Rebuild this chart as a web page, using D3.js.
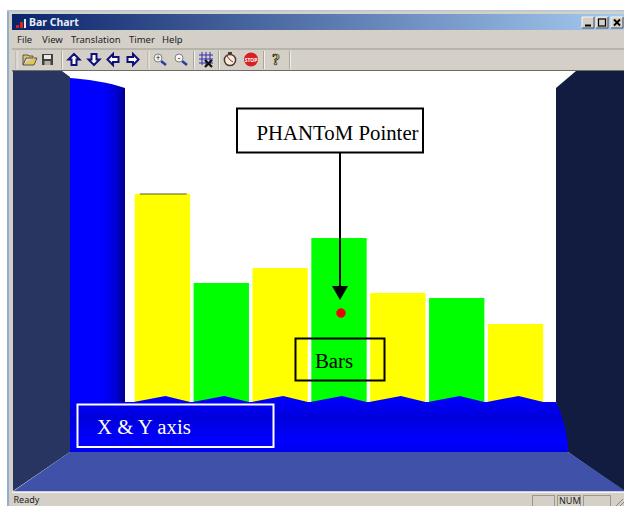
<!DOCTYPE html>
<html><head><meta charset="utf-8">
<script src="https://d3js.org/d3.v7.min.js"></script>
<style>html,body{margin:0;padding:0;background:#fff}svg{display:block}</style>
</head><body><svg id="c" width="624" height="506"></svg>
<script>
const barIndex = [1,2,3,4,5,6,7];
const barValues = [208,119,134,164,109,104,78];
const barKinds = ["y","g","y","g","y","g","y"];
const kindColors = {y:"#ffff00",g:"#00ff00"};
const menuItems = ["File","View","Translation","Timer","Help"];
const menuX = [17,42,71,129,162];

const svg = d3.select("#c");
const defs = svg.append("defs");
function grad(id,x2,y2,stops){
  const g=defs.append("linearGradient").attr("id",id).attr("x1",0).attr("y1",0).attr("x2",x2).attr("y2",y2);
  stops.forEach(s=>g.append("stop").attr("offset",s[0]).attr("stop-color",s[1]));
}
grad("title",1,0,[[0,"#0a246a"],[1,"#a6caf0"]]);
grad("pillar",1,0,[[0,"#0000ff"],[0.62,"#0000ff"],[0.85,"#0000d0"],[1,"#000088"]]);
grad("strip",0,1,[[0,"#0000ff"],[0.4,"#0000dc"],[0.8,"#0000ff"],[1,"#0000ee"]]);

const x = d3.scaleBand().domain(barIndex).range([133,545]).paddingInner(0.06).paddingOuter(0.03);
const y = d3.scaleLinear().domain([0,208]).range([402,194]);
const poly=(pts,fill)=>svg.append("polygon").attr("points",pts.map(p=>p.join(",")).join(" ")).attr("fill",fill);
const rect=(a,b,w,h,f)=>svg.append("rect").attr("x",a).attr("y",b).attr("width",w).attr("height",h).attr("fill",f);

// window frame
rect(7,10,617,496,"#d4d0c8");
rect(7,10,2,496,"#8fb0cc");
rect(7,10,617,1.5,"#b5c8d8");
rect(12,14,612,16,"url(#title)");
rect(12,48.5,612,1,"#9a978f");
rect(12,70,612,1.5,"#6e6c66");

// scene
rect(13,71,611,421,"#ffffff");
poly([[13,71],[62,71],[70,77],[70,452],[13,491]],"#283560");
poly([[556,88],[576,71],[624,71],[624,491],[568,452],[556,402]],"#121c40");
poly([[13,491.5],[70,452],[568,452],[624,490],[624,491.5]],"#3f51a8");

// bars
svg.append("g").selectAll("rect").data(barIndex).join("rect")
  .attr("x",d=>x(d)).attr("width",x.bandwidth())
  .attr("y",(d,i)=>y(barValues[i])).attr("height",(d,i)=>y(0)-y(barValues[i]))
  .attr("fill",(d,i)=>kindColors[barKinds[i]]);
svg.append("path").attr("d",`M${x(1)+5},${y(208)}H${x(1)+52}`).attr("stroke","#5a5a20").attr("stroke-width",1.2);

// blue axis
svg.append("path").attr("fill","url(#pillar)")
  .attr("d","M70,78 C85,79 108,82 125,88 L125,403 L70,403 Z");
const zig=[[125,402]];
barIndex.forEach(d=>{
  zig.push([x(d)-1,402]);
  zig.push([x(d)+x.bandwidth()/2+3,396]);
  zig.push([x(d)+x.bandwidth(),402]);
});
zig.push([556,402]);
const zigPath=zig.map(p=>p.join(",")).join(" L");
svg.append("path").attr("fill","url(#strip)")
  .attr("d",`M70,402 L${zigPath} C561,412 568,430 568,452 L70,452 Z`);

// annotations
const serif='"Liberation Serif","Times New Roman",serif';
const noteSize=20.8;
svg.append("rect").attr("x",237).attr("y",108.5).attr("width",186).attr("height",44)
  .attr("fill","#fff").attr("stroke","#000").attr("stroke-width",2);
svg.append("text").text("PHANToM Pointer").attr("x",256.5).attr("y",139.5).attr("font-family",serif).attr("font-size",noteSize).attr("fill","#000");
svg.append("line").attr("x1",340).attr("x2",340).attr("y1",152).attr("y2",287).attr("stroke","#000").attr("stroke-width",2);
poly([[332,286],[348,286],[340,300]],"#000");
svg.append("circle").attr("cx",341).attr("cy",313).attr("r",4.5).attr("fill","#f00000").attr("stroke","#c02020").attr("stroke-width",.5);
svg.append("rect").attr("x",295.5).attr("y",338.5).attr("width",89).attr("height",42)
  .attr("fill","none").attr("stroke","#000").attr("stroke-width",2);
svg.append("text").text("Bars").attr("x",315).attr("y",368).attr("font-family",serif).attr("font-size",noteSize).attr("fill","#000");
svg.append("rect").attr("x",77.5).attr("y",404.5).attr("width",196).attr("height",42.5)
  .attr("fill","none").attr("stroke","#fff").attr("stroke-width",2);
svg.append("text").text("X & Y axis").attr("x",97).attr("y",434).attr("font-family",serif).attr("font-size",noteSize).attr("fill","#fff");

// title bar
const ui='"Noto Sans","DejaVu Sans",sans-serif';
rect(16,25,3,3,"#d02020");rect(20,22,3,6,"#e02020");rect(24,19,2,9,"#e8e8e8");
svg.append("text").text("Bar Chart").attr("x",29).attr("y",26).attr("font-family",ui).attr("font-size",10.5).attr("font-weight",700).attr("fill","#e8eef8");
function btn(bx,w){
  const g=svg.append("g").attr("transform",`translate(${bx},17)`);
  g.append("rect").attr("width",w).attr("height",11).attr("fill","#d4d0c8");
  g.append("path").attr("d",`M0,11V0H${w}`).attr("stroke","#f6f5f0").attr("fill","none");
  g.append("path").attr("d",`M0,11H${w}V0`).attr("stroke","#505050").attr("fill","none");
  return g;
}
btn(582,12).append("rect").attr("x",3).attr("y",7.5).attr("width",6).attr("height",2).attr("fill","#000");
btn(596,12).append("rect").attr("x",2.5).attr("y",2).attr("width",7).attr("height",7).attr("fill","none").attr("stroke","#000").attr("stroke-width",1.2);
btn(611,12).append("path").attr("d","M3,2.5L9,8.5M9,2.5L3,8.5").attr("stroke","#000").attr("stroke-width",1.8);

// menu
svg.append("g").selectAll("text").data(menuItems).join("text").text(d=>d)
  .attr("x",(d,i)=>menuX[i]).attr("y",43).attr("font-family",ui).attr("font-size",9.5).attr("fill","#222");

// toolbar
[15.5,61,147.5,193,218,263,289].forEach(v=>{rect(v,51,1,18,"#a8a59d");rect(v+1,51,1,18,"#f2f0ea");});
const tb=svg.append("g");
// open folder
tb.append("path").attr("d","M23,65V55h5l1,1h4v2h-7l-3,7h11l3,-7h-3").attr("fill","#e0c850").attr("stroke","#555").attr("stroke-width",1);
// save
tb.append("rect").attr("x",42).attr("y",54).attr("width",11).attr("height",11).attr("fill","#404040");
tb.append("rect").attr("x",44).attr("y",55).attr("width",7).attr("height",4).attr("fill","#e8e8e0");
tb.append("rect").attr("x",44.5).attr("y",61).attr("width",6).attr("height",4).attr("fill","#b0b0a8");
// arrows
const arrow="M0,-5.5L5.5,0H2.5V5.5H-2.5V0H-5.5Z";
[[74,59.5,0],[94,59.5,180],[113,59.5,-90],[133,59.5,90]].forEach(a=>{
  tb.append("path").attr("d",arrow).attr("transform",`translate(${a[0]},${a[1]}) rotate(${a[2]})`)
    .attr("fill","#fff").attr("stroke","#10107c").attr("stroke-width",2);
});
// zoom
[[159,"+"],[180,"-"]].forEach(a=>{
  tb.append("line").attr("x1",a[0]+2).attr("y1",61).attr("x2",a[0]+7).attr("y2",65).attr("stroke","#2040a0").attr("stroke-width",2.4);
  tb.append("circle").attr("cx",a[0]-1).attr("cy",58).attr("r",4).attr("fill","#f4f4f4").attr("stroke","#808080");
  tb.append("text").text(a[1]).attr("x",a[0]-1).attr("y",61).attr("text-anchor","middle").attr("font-size",8).attr("font-family",ui).attr("fill","#222");
});
// grid
tb.append("path").attr("d","M202,52V65M206,52V65M210,52V65M199,55H213M199,59H213M199,63H213").attr("stroke","#3030b0").attr("stroke-width",1).attr("fill","none");
tb.append("path").attr("d","M205,60L212,67M212,60L205,67").attr("stroke","#111").attr("stroke-width",2.2);
// clock
tb.append("circle").attr("cx",230).attr("cy",60).attr("r",5.6).attr("fill","#f6eedd").attr("stroke","#4a3a30").attr("stroke-width",1.5);
tb.append("path").attr("d","M230,60L227,56M230,60L233,62").attr("stroke","#b02020").attr("stroke-width",1);
tb.append("rect").attr("x",228).attr("y",52).attr("width",4).attr("height",2).attr("fill","#4a3a30");
// stop
tb.append("circle").attr("cx",251).attr("cy",59.5).attr("r",7).attr("fill","#d82020");
tb.append("text").text("STOP").attr("x",251).attr("y",61.5).attr("text-anchor","middle").attr("font-size",5).attr("font-family",ui).attr("font-weight",700).attr("fill","#fff");
// help
tb.append("text").text("?").attr("x",276).attr("y",65).attr("text-anchor","middle").attr("font-size",16).attr("font-family",serif).attr("font-weight",700).attr("fill","#d8c840").attr("stroke","#222").attr("stroke-width",.7);

// status bar
rect(12,491.5,612,1.5,"#f4f2ec");
svg.append("text").text("Ready").attr("x",13.5).attr("y",503).attr("font-family",ui).attr("font-size",9).attr("fill","#222");
[[532,22,""],[557,23,"NUM"],[583,27,""]].forEach(s=>{
  svg.append("rect").attr("x",s[0]+.5).attr("y",495.5).attr("width",s[1]).attr("height",11).attr("fill","none").attr("stroke","#9a978f");
  if(s[2])svg.append("text").text(s[2]).attr("x",s[0]+2).attr("y",504).attr("font-family",ui).attr("font-size",9).attr("fill","#222");
});
svg.append("path").attr("d","M616,506L623,499M620,506L624,502").attr("stroke","#888");
</script></body></html>
